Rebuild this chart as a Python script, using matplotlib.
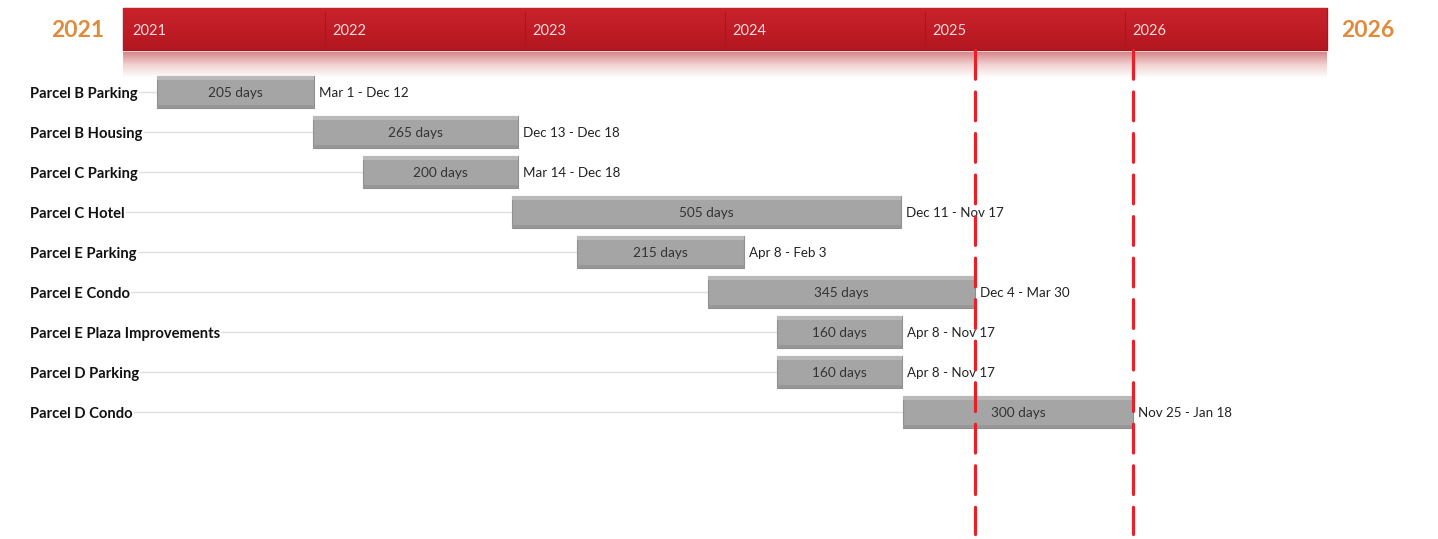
import numpy as np
import matplotlib
matplotlib.use("Agg")
from matplotlib import pyplot as plt
from matplotlib.patches import Rectangle

#%% data (x in fractional years)
tasks = ["Parcel B Parking", "Parcel B Housing", "Parcel C Parking",
         "Parcel C Hotel", "Parcel E Parking", "Parcel E Condo",
         "Parcel E Plaza Improvements", "Parcel D Parking", "Parcel D Condo"]
starts = [2021.16, 2021.94, 2022.19, 2022.935, 2023.26, 2023.915, 2024.26, 2024.26, 2024.89]
ends = [2021.945, 2022.965, 2022.965, 2024.88, 2024.095, 2025.25, 2024.885, 2024.885, 2026.04]
durations = ["205 days", "265 days", "200 days", "505 days", "215 days",
             "345 days", "160 days", "160 days", "300 days"]
date_ranges = ["Mar 1 - Dec 12", "Dec 13 - Dec 18", "Mar 14 - Dec 18",
               "Dec 11 - Nov 17", "Apr 8 - Feb 3", "Dec 4 - Mar 30",
               "Apr 8 - Nov 17", "Apr 8 - Nov 17", "Nov 25 - Jan 18"]
years = [2021, 2022, 2023, 2024, 2025, 2026]
milestones = [2025.25, 2026.04]

plt.rcParams['font.family'] = ['Lato', 'DejaVu Sans']

fig = plt.figure(figsize=(14.38, 5.39), dpi=100)
ax = fig.add_axes([0, 0, 1, 1])
ax.set_xlim(2020.375, 2027.565)
ax.set_ylim(11.175, -2.3)
ax.axis("off")

#%% timeline band on top
band_l, band_r = 2020.99, 2027.01
band_top, band_bot = -2.1, -1.05
ax.add_patch(Rectangle((band_l, band_top), band_r - band_l, band_bot - band_top,
                       facecolor="#c21d26", edgecolor="#a8151d", lw=1, zorder=3))
# slight shading on the band
shade = np.linspace(0, 1, 50).reshape(-1, 1)
ax.imshow(shade, extent=(band_l, band_r, band_bot, band_top), aspect="auto",
          cmap=matplotlib.colors.LinearSegmentedColormap.from_list(
              "s", ["#c8222b", "#c01d26", "#b2171f"]),
          zorder=3.5, interpolation="bilinear")
# reflection below the band
refl = np.linspace(0, 1, 50).reshape(-1, 1)
ax.imshow(refl, extent=(band_l, band_r, band_bot + 0.7, band_bot + 0.05), aspect="auto",
          cmap=matplotlib.colors.LinearSegmentedColormap.from_list(
              "r", ["#d7898b", "#f2d3d3", "#ffffff"]),
          zorder=2, interpolation="bilinear")

for yr in years:
    if yr > years[0]:
        ax.plot([yr, yr], [band_top + 0.1, band_bot - 0.1], color="#a9161e", lw=0.8, zorder=4)
    ax.text(yr + 0.035, (band_top + band_bot) / 2 + 0.04, str(yr), color="#f4dada",
            fontsize=10.5, va="center", ha="left", zorder=5)

ax.text(2020.765, (band_top + band_bot) / 2 + 0.04, str(years[0]), color="#e08a3c",
        fontsize=16.5, fontweight="bold", ha="center", va="center")
ax.text(2027.215, (band_top + band_bot) / 2 + 0.04, str(years[-1]), color="#e08a3c",
        fontsize=16.5, fontweight="bold", ha="center", va="center")

#%% task rows
label_x = 2020.375 + 30 / 200.0
for i, t in enumerate(tasks):
    ax.plot([label_x, starts[i]], [i, i], color="#e0e0e0", lw=1, zorder=1)
    ax.text(label_x, i + 0.05, t, fontsize=10.6, fontweight="bold", color="#111111",
            ha="left", va="center", zorder=2,
            bbox=dict(facecolor="white", edgecolor="none", pad=1))

widths = np.array(ends) - np.array(starts)
ax.barh(range(len(tasks)), widths, left=starts,
        height=0.8, color="#a5a5a5", edgecolor="#909090", lw=0.8, zorder=3)
# subtle bevel: lighter strip on top, darker strip at bottom
ax.barh(np.arange(len(tasks)) - 0.35, widths, left=starts,
        height=0.09, color="#b9b9b9", edgecolor="none", zorder=3.2)
ax.barh(np.arange(len(tasks)) + 0.36, widths, left=starts,
        height=0.07, color="#979797", edgecolor="none", zorder=3.2)

for i in range(len(tasks)):
    ax.text((starts[i] + ends[i]) / 2, i + 0.02, durations[i], fontsize=9.8,
            color="#333333", ha="center", va="center", zorder=4)
    ax.text(ends[i] + 0.025, i + 0.02, date_ranges[i], fontsize=9.6,
            color="#222222", ha="left", va="center", zorder=4)

#%% milestone lines
for m in milestones:
    ax.plot([m, m], [-1.05, 11.05], color="#e8202a", lw=2.3,
            dashes=(9, 4), dash_capstyle="round", zorder=6)

fig.savefig("out.png", dpi=100)
